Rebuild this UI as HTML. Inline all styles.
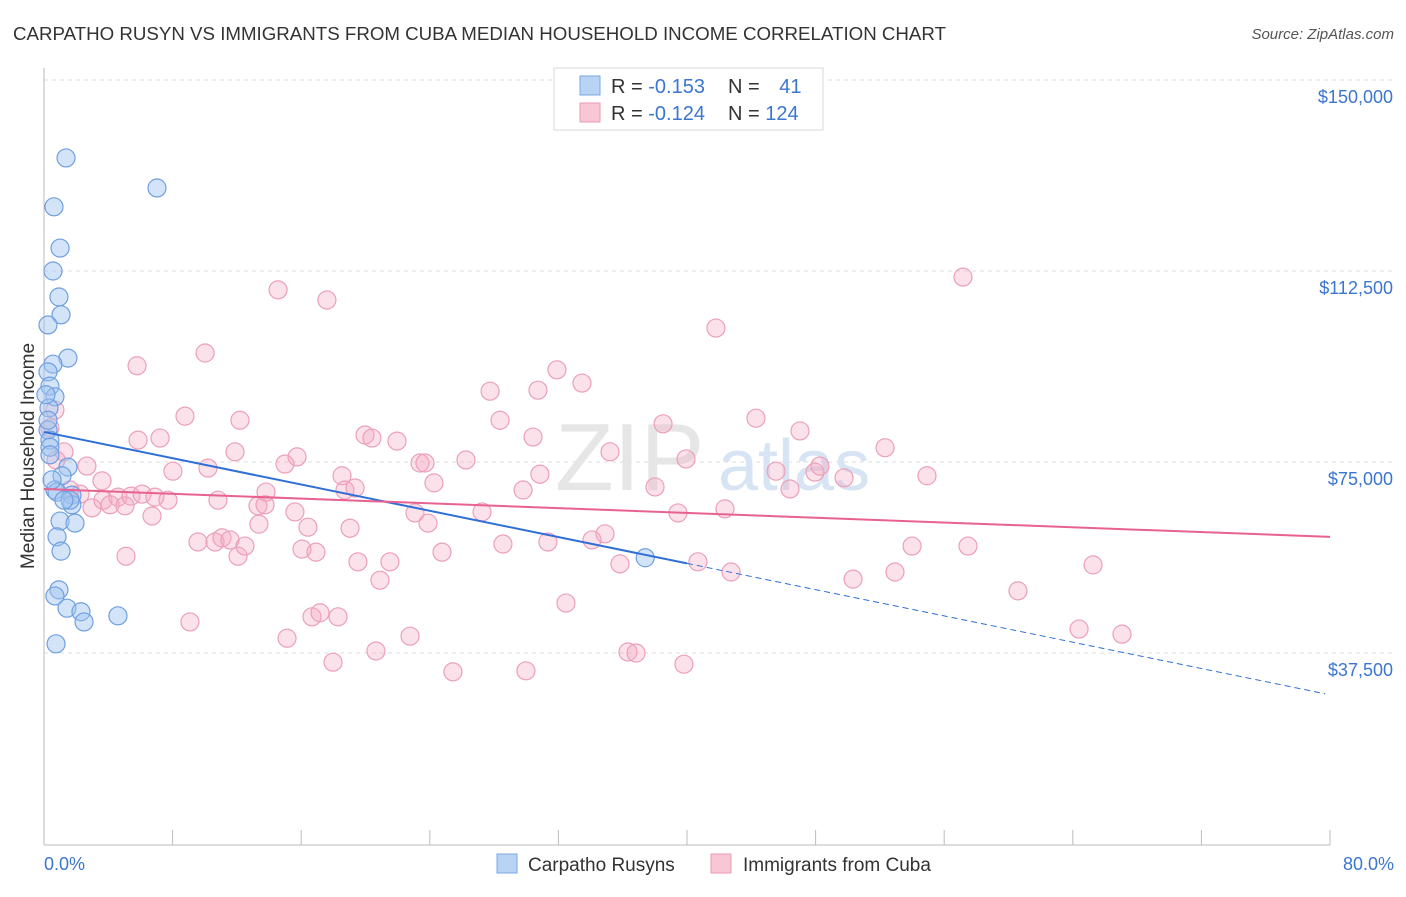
<!DOCTYPE html>
<html><head><meta charset="utf-8"><style>
body{margin:0;background:#fff;font-family:"Liberation Sans",sans-serif;}
svg text{font-family:"Liberation Sans",sans-serif;}
</style></head><body>
<svg id="chart" width="1406" height="892" viewBox="0 0 1406 892" xmlns="http://www.w3.org/2000/svg">
<text x="13" y="40" font-size="18.5" fill="#333" textLength="933" lengthAdjust="spacingAndGlyphs">CARPATHO RUSYN VS IMMIGRANTS FROM CUBA MEDIAN HOUSEHOLD INCOME CORRELATION CHART</text>
<text x="1394" y="39" font-size="15" fill="#555" text-anchor="end" font-style="italic">Source: ZipAtlas.com</text>
<g id="grid"></g>
<text x="555" y="490" font-size="96" fill="#e6e6e6" font-family="Liberation Serif">ZIP</text>
<text x="718" y="490" font-size="72" fill="#d6e4f4">atlas</text>
<g id="axes"></g>
<g id="pts"></g>
<g id="trends"></g>
<text transform="translate(34,456) rotate(-90)" font-size="19" fill="#333" text-anchor="middle">Median Household Income</text>
<text x="44" y="870" font-size="18" fill="#3b76d1">0.0%</text>
<text x="1394" y="870" font-size="18" fill="#3b76d1" text-anchor="end">80.0%</text>
<g>
<rect x="554" y="68" width="269" height="62" fill="#fff" stroke="#d8d8d8"/>
<rect x="580" y="76" width="20" height="19" fill="#b9d3f5" stroke="#7aa7e3"/>
<rect x="580" y="103" width="20" height="19" fill="#f9c6d5" stroke="#eb9ab3"/>
<text x="611" y="93" font-size="20" fill="#333">R = <tspan fill="#3b76d1">-0.153</tspan></text>
<text x="728" y="93" font-size="20" fill="#333">N = <tspan fill="#3b76d1" dx="14">41</tspan></text>
<text x="611" y="120" font-size="20" fill="#333">R = <tspan fill="#3b76d1">-0.124</tspan></text>
<text x="728" y="120" font-size="20" fill="#333">N = <tspan fill="#3b76d1">124</tspan></text>
</g>
<g>
<rect x="497" y="854" width="20" height="19" fill="#b9d3f5" stroke="#7aa7e3"/>
<text x="528" y="871" font-size="19" fill="#333">Carpatho Rusyns</text>
<rect x="711" y="854" width="20" height="19" fill="#f9c6d5" stroke="#eb9ab3"/>
<text x="743" y="871" font-size="19" fill="#333">Immigrants from Cuba</text>
</g>
</svg>
<script>
const yTicks=[37500,75000,112500,150000];
const yTickLabels=["$37,500","$75,000","$112,500","$150,000"];
const xTicks=[0,8,16,24,32,40,48,56,64,72,80];
const rusynX=[1.37,7.03,0.62,1.0,0.56,0.93,1.06,0.25,1.49,0.56,0.25,0.37,0.68,0.31,0.25,0.37,0.37,1.49,1.12,0.68,0.81,1.74,1.74,1.0,1.93,0.81,1.06,0.93,0.68,1.43,2.3,2.49,4.6,0.75,37.4,0.25,0.37,1.62,0.5,0.12,1.24];
const rusynY=[134.7,128.8,125.1,117.0,112.5,107.4,103.9,101.9,95.4,94.2,92.7,89.9,87.8,85.6,81.3,79.3,77.9,74.0,72.3,69.5,69.1,68.5,66.6,63.4,63.0,60.3,57.5,49.9,48.7,46.3,45.6,43.6,44.8,39.3,56.2,83.2,76.4,67.5,71.5,88.2,67.5];
const cubaX=[0.68,0.37,0.75,1.24,2.67,3.61,1.62,2.24,2.99,3.67,4.11,4.6,5.04,5.41,6.72,6.1,6.9,7.71,5.1,5.79,7.22,5.85,8.02,8.77,10.02,10.2,9.08,9.58,10.64,10.82,11.07,11.57,12.07,12.19,11.88,12.5,13.31,13.75,13.37,13.81,14.56,14.99,15.74,15.61,15.12,16.05,16.42,16.92,16.67,17.17,17.6,18.29,17.98,18.54,18.72,19.04,19.35,19.53,19.97,20.4,20.65,20.9,21.52,21.96,22.77,23.39,23.7,23.08,23.89,24.26,24.76,25.44,26.25,27.25,27.75,28.37,28.55,29.8,29.98,30.42,30.73,30.85,31.35,31.91,32.47,33.47,34.09,34.9,35.21,35.83,36.33,36.83,38.01,38.51,39.44,39.81,39.94,40.68,41.8,42.36,42.74,44.29,45.54,46.41,47.03,47.96,48.27,49.77,50.33,52.32,52.94,54.0,54.93,57.17,57.48,60.59,64.39,65.26,67.06];
const cubaY=[85.2,81.7,75.4,77.0,74.2,71.3,69.5,68.7,66.0,67.5,66.6,68.1,66.4,68.3,64.4,68.7,68.1,67.5,56.5,93.9,79.7,79.3,73.2,84.0,96.4,73.8,43.6,59.3,59.3,67.5,60.1,59.7,56.5,83.2,77.0,58.5,66.4,66.6,62.8,69.1,108.8,74.6,76.0,65.2,40.4,57.9,62.2,57.3,44.6,45.4,106.8,44.6,35.7,72.3,69.5,62.0,69.9,55.4,80.3,79.7,37.9,51.8,55.4,79.1,40.8,74.8,74.8,65.0,63.0,70.9,57.3,33.8,75.4,65.2,88.9,83.2,58.9,69.5,34.0,79.9,89.1,72.6,59.3,93.1,47.3,90.5,59.7,60.9,77.0,55.0,37.7,37.5,70.1,82.5,65.0,35.3,75.6,55.4,101.3,65.8,53.4,83.6,73.2,69.7,81.1,73.0,74.2,71.9,52.0,77.8,53.4,58.5,72.3,111.3,58.5,49.7,42.2,54.8,41.2];
const rusynTrend=[80.9,29.3];
const cubaTrend=[69.7,60.3];
const rusynSolidEnd=40;
const NS="http://www.w3.org/2000/svg";
function sx(p){return 44+p*1286/80;}
function sy(v){return 844-v*191/37500;}
function mk(t,a,parent){const e=document.createElementNS(NS,t);for(const k in a)e.setAttribute(k,a[k]);parent.appendChild(e);return e;}
const grid=document.getElementById('grid'),axes=document.getElementById('axes'),pts=document.getElementById('pts'),tr=document.getElementById('trends');
yTicks.forEach((v,i)=>{
 const l=mk('line',{x1:44,x2:1394,y1:sy(v),y2:sy(v),stroke:'#dcdcdc','stroke-dasharray':'4,4'},grid);
 
 
 const t=mk('text',{x:1393,y:sy(v)+23,'font-size':18,fill:'#3b76d1','text-anchor':'end'},grid);
 t.textContent=yTickLabels[i];
 
 
});
const ax=mk('line',{x1:44,x2:1330,y1:845,y2:845,stroke:'#bbb'},axes);


const ay=mk('line',{x1:44,x2:44,y1:68,y2:845,stroke:'#bbb'},axes);


xTicks.forEach(p=>{
 const t=mk('line',{x1:sx(p),x2:sx(p),y1:830,y2:845,stroke:'#bbb'},axes);
 
 
});
cubaX.forEach((p,i)=>{
 const c=mk('circle',{cx:sx(p),cy:sy(cubaY[i]*1000),r:9,fill:'rgba(244,170,195,0.35)',stroke:'#eca0b8','stroke-width':1.2},pts);
 
 
});
rusynX.forEach((p,i)=>{
 const c=mk('circle',{cx:sx(p),cy:sy(rusynY[i]*1000),r:9,fill:'rgba(160,195,240,0.45)',stroke:'#6f9fe0','stroke-width':1.2},pts);
 
 
});
function ty(tr2,p){return tr2[0]+(tr2[1]-tr2[0])*p/80;}
const l1=mk('line',{x1:sx(0),y1:sy(ty(rusynTrend,0)*1000),x2:sx(rusynSolidEnd),y2:sy(ty(rusynTrend,rusynSolidEnd)*1000),stroke:'#2f6fd6','stroke-width':2},tr);


const l2=mk('line',{x1:sx(rusynSolidEnd),y1:sy(ty(rusynTrend,rusynSolidEnd)*1000),x2:sx(79.7),y2:sy(ty(rusynTrend,79.7)*1000),stroke:'#2f6fd6','stroke-width':1,'stroke-dasharray':'6,4'},tr);


const l3=mk('line',{x1:sx(0),y1:sy(cubaTrend[0]*1000),x2:sx(80),y2:sy(cubaTrend[1]*1000),stroke:'#e8628f','stroke-width':2},tr);


</script>
</body></html>
